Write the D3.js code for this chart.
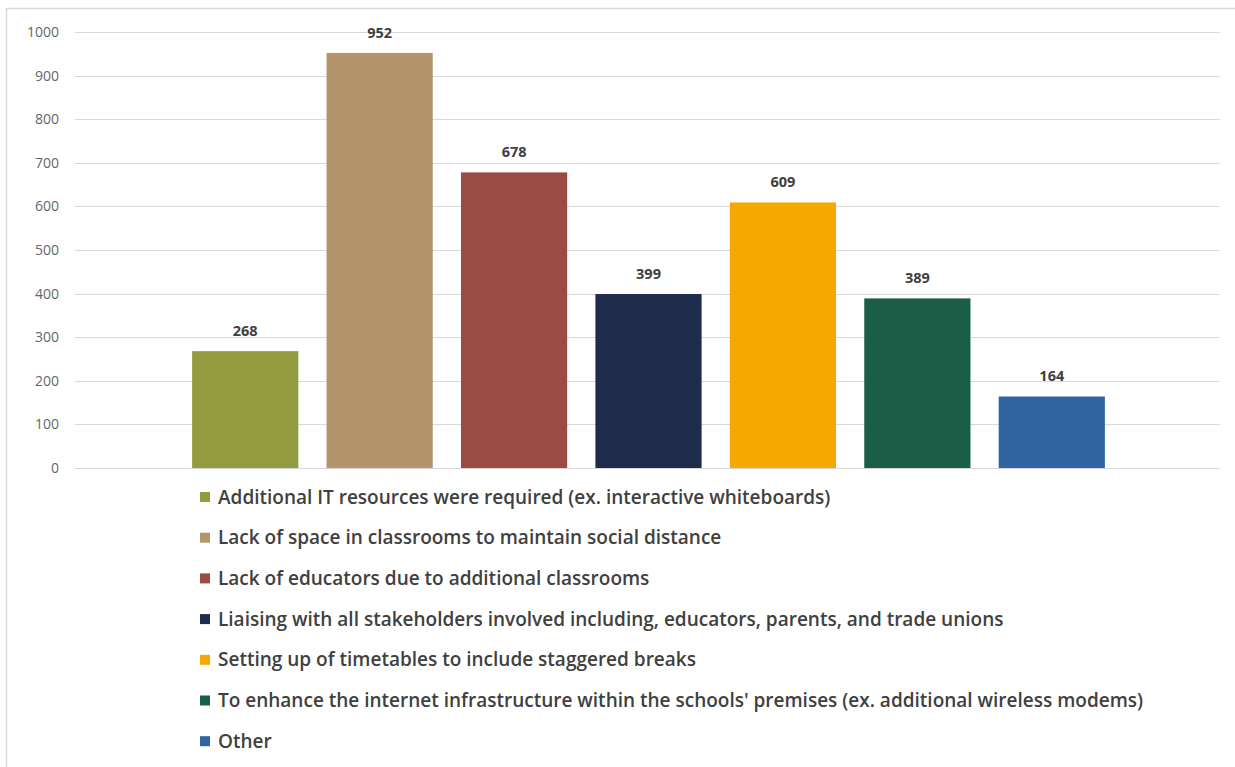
<!DOCTYPE html>
<html>
<head>
<meta charset="utf-8">
<script src="https://cdn.jsdelivr.net/npm/d3@7"></script>
<style>
  html, body { margin: 0; padding: 0; background: #ffffff; }
  svg { display: block; }
  text { font-family: "Open Sans", "Noto Sans", sans-serif; }
</style>
</head>
<body>
<svg id="chart" width="1235" height="767"></svg>
<script>
const categories = [
  "Additional IT resources were required (ex. interactive whiteboards)",
  "Lack of space in classrooms to maintain social distance",
  "Lack of educators due to additional classrooms",
  "Liaising with all stakeholders involved including, educators, parents, and trade unions",
  "Setting up of timetables to include staggered breaks",
  "To enhance the internet infrastructure within the schools' premises (ex. additional wireless modems)",
  "Other"
];
const values = [268, 952, 678, 399, 609, 389, 164];
const colors = ["#929B3D", "#B4946A", "#9C4B43", "#1F2C4C", "#F5A800", "#1B5E47", "#2F64A0"];
const yTicks = [0, 100, 200, 300, 400, 500, 600, 700, 800, 900, 1000];

const svg = d3.select("#chart");

// outer frame
svg.append("rect")
  .attr("x", 6.5).attr("y", 8.5)
  .attr("width", 1240).attr("height", 800)
  .attr("fill", "#ffffff")
  .attr("stroke", "#d9d9d9").attr("stroke-width", 1.5);

const y = d3.scaleLinear().domain([0, 1000]).range([468, 32]);
const x = d3.scaleBand().domain(categories).range([178, 1119]).paddingInner(0.21).paddingOuter(0.105);

// gridlines
const gridX0 = 75, gridX1 = 1220;
svg.append("g")
  .selectAll("line")
  .data(yTicks)
  .join("line")
  .attr("x1", gridX0).attr("x2", gridX1)
  .attr("y1", d => Math.round(y(d)) + 0.5)
  .attr("y2", d => Math.round(y(d)) + 0.5)
  .attr("stroke", "#d9d9d9").attr("stroke-width", 1);

// y axis labels
const yAxis = d3.axisLeft(y).tickValues(yTicks).tickFormat(d3.format("d")).tickSize(0).tickPadding(0);
const yg = svg.append("g").attr("transform", "translate(59,0)").call(yAxis);
yg.select(".domain").remove();
yg.selectAll("text")
  .attr("fill", "#666666")
  .style("font-size", "14px")
  .style("font-family", "'Open Sans', sans-serif");

// bars
svg.append("g")
  .selectAll("rect")
  .data(values)
  .join("rect")
  .attr("x", (d, i) => x(categories[i]))
  .attr("y", d => y(d))
  .attr("width", x.bandwidth())
  .attr("height", d => y(0) - y(d))
  .attr("fill", (d, i) => colors[i]);

// value labels
svg.append("g")
  .selectAll("text")
  .data(values)
  .join("text")
  .attr("x", (d, i) => x(categories[i]) + x.bandwidth() / 2)
  .attr("y", d => y(d) - 15)
  .attr("text-anchor", "middle")
  .attr("fill", "#404040")
  .style("font-size", "14.5px")
  .style("font-weight", "700")
  .text(d => d);

// legend
const legY0 = 497, legStep = 40.7;
const leg = svg.append("g");
const items = leg.selectAll("g")
  .data(categories)
  .join("g")
  .attr("transform", (d, i) => `translate(200,${legY0 + i * legStep})`);
items.append("rect")
  .attr("x", 0).attr("y", -5)
  .attr("width", 10).attr("height", 10)
  .attr("fill", (d, i) => colors[i]);
const legText = items.append("text")
  .attr("x", 18).attr("y", 0)
  .attr("dy", "0.35em")
  .attr("fill", "#404040")
  .style("font-size", "16px")
  .style("font-weight", "600")
  .text(d => d);

// fit font size so the longest entry spans the same width as reference (~925px)
const longest = legText.filter((d, i) => i === 5).node();
const w = longest.getComputedTextLength();
const fs = 16 * 925 / w;
legText.style("font-size", fs.toFixed(2) + "px");
</script>
</body>
</html>
